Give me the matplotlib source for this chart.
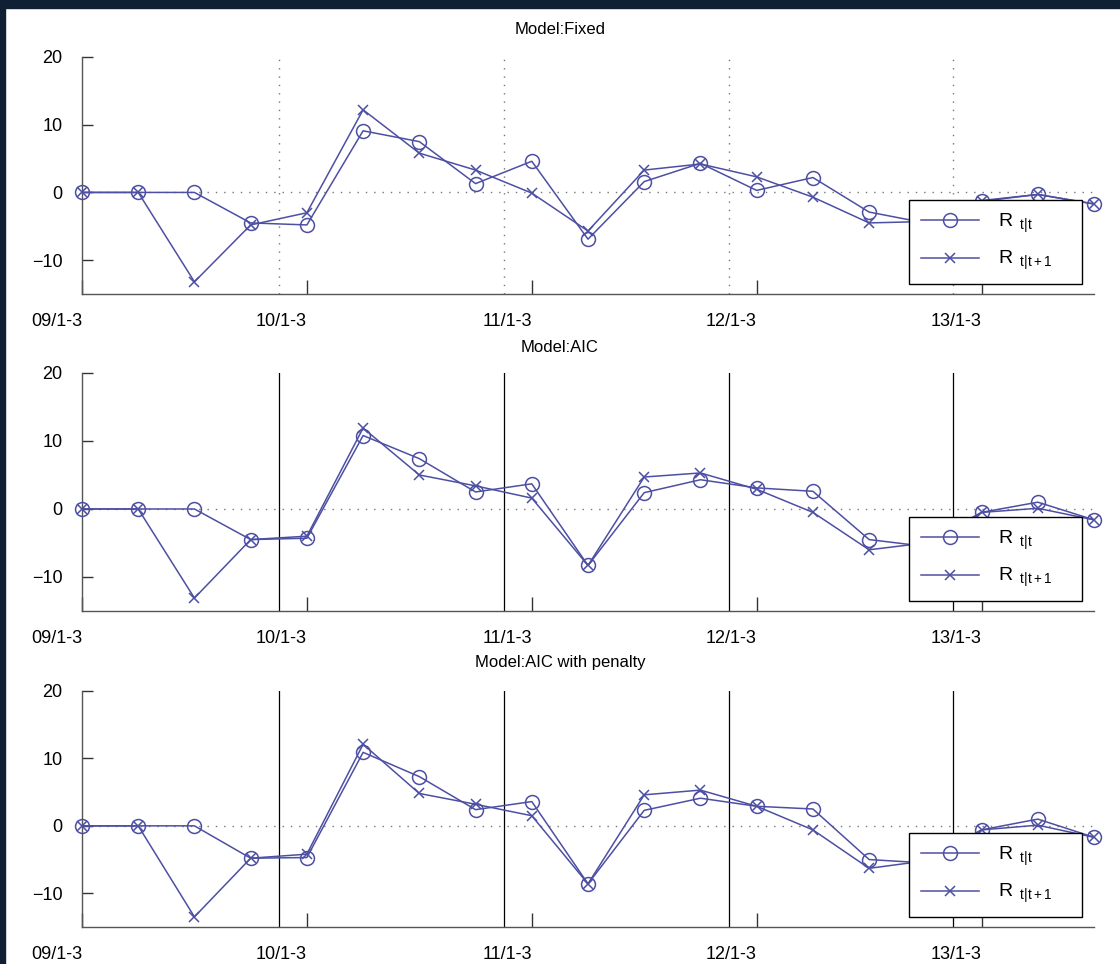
import numpy as np
import matplotlib
matplotlib.use('Agg')
from matplotlib import pyplot as plt
from matplotlib.patches import Rectangle

plt.rcParams['font.family'] = ['Liberation Sans Narrow', 'Liberation Sans', 'DejaVu Sans']
plt.rcParams['mathtext.fontset'] = 'custom'
plt.rcParams['mathtext.rm'] = 'Liberation Sans'
plt.rcParams['mathtext.it'] = 'Liberation Sans'

# quarterly index, 2009 Q1 .. 2013 Q3
quarters = np.arange(19)
tick_pos = [0, 4, 8, 12, 16]
tick_labels = ['09/1-3', '10/1-3', '11/1-3', '12/1-3', '13/1-3']
year_breaks = [3.5, 7.5, 11.5, 15.5]

titles = ['Model:Fixed', 'Model:AIC', 'Model:AIC with penalty']

fixed_tt = [0, 0, 0, -4.5, -4.8, 9.1, 7.5, 1.3, 4.6, -6.9, 1.6, 4.3, 0.3, 2.2, -2.9, -4.5, -1.3, -0.3, -1.7]
fixed_tt1 = [0, 0, -13.2, -4.8, -3.0, 12.2, 5.8, 3.3, -0.1, -5.7, 3.3, 4.2, 2.3, -0.7, -4.5, -4.3, -1.2, -0.3, -1.7]

aic_tt = [0, 0, 0, -4.5, -4.3, 10.8, 7.4, 2.5, 3.7, -8.3, 2.4, 4.3, 3.1, 2.6, -4.5, -5.5, -0.5, 1.0, -1.6]
aic_tt1 = [0, 0, -13.1, -4.5, -4.0, 11.9, 5.0, 3.4, 1.6, -8.3, 4.7, 5.3, 2.9, -0.5, -6.0, -5.0, -0.5, 0.1, -1.6]

pen_tt = [0, 0, 0, -4.8, -4.7, 10.9, 7.3, 2.4, 3.6, -8.6, 2.3, 4.1, 2.9, 2.5, -5.0, -5.5, -0.6, 1.0, -1.7]
pen_tt1 = [0, 0, -13.5, -4.8, -4.2, 12.1, 4.8, 3.2, 1.5, -8.6, 4.6, 5.3, 2.9, -0.6, -6.3, -5.2, -0.6, 0.1, -1.7]

series = [(fixed_tt, fixed_tt1), (aic_tt, aic_tt1), (pen_tt, pen_tt1)]

line_color = '#4d4fa3'

fig = plt.figure(figsize=(11.2, 9.64), dpi=100)

# dark strip around the picture edge
fig.patches.append(Rectangle((0, 1 - 8 / 964), 1, 8 / 964, transform=fig.transFigure,
                             color='#0f2034', zorder=0))
fig.patches.append(Rectangle((0, 0), 5 / 1120, 1, transform=fig.transFigure,
                             color='#0f2034', zorder=0))

# axes boxes: left, bottom, width, height (figure fraction)
boxes = [[0.0732, 0.695, 0.9036, 0.2459],
         [0.0732, 0.3662, 0.9036, 0.2469],
         [0.0732, 0.0384, 0.9036, 0.2448]]
title_y = [0.969, 0.640, 0.313]

for i in range(3):
    ax = fig.add_axes(boxes[i])
    tt, tt1 = series[i]

    ax.axhline(0, color='#777777', lw=1, linestyle=(0, (1, 5)), zorder=1)
    for xb in year_breaks:
        if i == 0:
            ax.axvline(xb, color='#777777', lw=1, linestyle=(0, (1, 5)), zorder=1)
        else:
            ax.axvline(xb, color='black', lw=0.9, zorder=1)

    ax.plot(quarters, tt, color=line_color, lw=1.1, marker='o', markersize=10,
            markerfacecolor='none', markeredgewidth=1.1, clip_on=False, zorder=3,
            label=r'$\mathrm{R}_{\ \ \mathrm{t|t}}$')
    ax.plot(quarters, tt1, color=line_color, lw=1.1, marker='x', markersize=7,
            markeredgewidth=1.1, clip_on=False, zorder=3,
            label=r'$\mathrm{R}_{\ \ \mathrm{t|t+1}}$' + '    ')

    ax.set_xlim(0, 18)
    ax.set_ylim(-15, 20)
    ax.set_yticks([-10, 0, 10, 20])
    ax.set_xticks(tick_pos)
    ax.set_xticklabels(tick_labels, ha='right')

    for side in ['top', 'right']:
        ax.spines[side].set_visible(False)
    for side in ['left', 'bottom']:
        ax.spines[side].set_color('#555555')
        ax.spines[side].set_linewidth(1)

    ax.tick_params(axis='y', direction='in', length=8, width=1, color='#333333',
                   labelsize=13, pad=14)
    ax.tick_params(axis='x', direction='in', length=10, width=1, color='#333333',
                   labelsize=13, pad=14)

    leg = ax.legend(loc='lower right', bbox_to_anchor=(0.988, 0.042), fontsize=14,
                    fancybox=False, edgecolor='black', framealpha=1, handlelength=3.0,
                    borderpad=0.6, labelspacing=0.75, handletextpad=1.0,
                    borderaxespad=0)
    leg.get_frame().set_linewidth(1)
    leg.set_zorder(5)

    fig.text(0.5, title_y[i], titles[i], ha='center', va='center', fontsize=12)

fig.savefig('out.png', dpi=100)
